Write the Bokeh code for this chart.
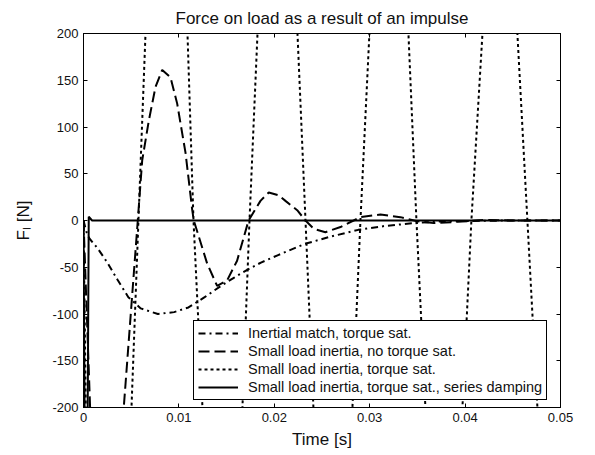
from bokeh.plotting import figure
from bokeh.models import FixedTicker, LinearAxis, Range1d, Legend, LegendItem
from bokeh.embed import file_html
from bokeh.resources import INLINE

FONT = "Liberation Sans"

# ---- data ----
t_inertial = [0, 0.0003, 0.0006, 0.0015, 0.0025, 0.0036, 0.0047, 0.006, 0.0078,
              0.0095, 0.011, 0.0127, 0.0144, 0.0158, 0.0173, 0.0186, 0.0204,
              0.0232, 0.026, 0.0288, 0.0315, 0.0344, 0.0373, 0.04, 0.045, 0.05]
f_inertial = [0, -12, -19, -30, -45, -64, -82, -94, -100,
              -98, -93, -82, -70, -61, -52, -45, -37,
              -25, -17, -10, -6, -3, -1, -0.5, 0, 0]

t_nosat = [0, 0.0009, 0.0025, 0.00422, 0.00569, 0.00615, 0.00685, 0.00755,
           0.00825, 0.00912, 0.00982, 0.0107, 0.0114, 0.01156, 0.01296, 0.01401,
           0.01506, 0.0161, 0.0173, 0.01855, 0.01942, 0.02044, 0.02117, 0.0224,
           0.02327, 0.02415, 0.02536, 0.02694, 0.02903, 0.03113, 0.03322,
           0.03497, 0.0367, 0.039, 0.042, 0.045, 0.05]
f_nosat = [0, -260, -500, -200, 0, 64, 107, 143,
           161, 153, 125, 72, 11, 0, -46, -70,
           -64, -43, 0, 21, 30, 27, 21, 11,
           0, -9, -12.5, -7, 3.6, 6.4, 3.6,
           -0.7, -2.8, -1.5, 0.5, 0, 0]

t_sat = [0, 0.0003, 0.0025, 0.00503, 0.00576, 0.0065, 0.0087, 0.0109, 0.01153,
         0.01247, 0.01457, 0.01666, 0.0174, 0.01824, 0.02033, 0.02243, 0.02327,
         0.0241, 0.0261, 0.02819, 0.02903, 0.02997, 0.03196, 0.03406, 0.0349,
         0.03584, 0.03773, 0.03972, 0.04066, 0.04182, 0.0437, 0.04548, 0.04653,
         0.04758, 0.0497]
f_sat = [0, -250, -470, -200, 0, 200, 470, 200, 0,
         -200, -470, -200, 0, 200, 470, 200, 0,
         -200, -470, -200, 0, 200, 470, 200, 0,
         -200, -470, -200, 0, 200, 470, 200, 0,
         -200, -470]

t_damp = [0, 0.00028, 0.00055, 0.0009, 0.05]
f_damp = [0, -500, 4, 0, 0]

x_ticks = [0, 0.01, 0.02, 0.03, 0.04, 0.05]
x_labels = ["0", "0.01", "0.02", "0.03", "0.04", "0.05"]
y_ticks = [-200, -150, -100, -50, 0, 50, 100, 150, 200]
y_labels = ["-200", "-150", "-100", "-50", "0", "50", "100", "150", "200"]

labels = ["Inertial match, torque sat.",
          "Small load inertia, no torque sat.",
          "Small load inertia, torque sat.",
          "Small load inertia, torque sat., series damping"]

# ---- figure ----
p = figure(frame_width=477, frame_height=374,
           x_range=Range1d(0, 0.05), y_range=Range1d(-200, 200),
           output_backend="svg", toolbar_location=None,
           min_border_left=83, min_border_right=35,
           min_border_top=33, min_border_bottom=48,
           background_fill_color="white", border_fill_color="white")

p.title.text = "Force on load as a result of an impulse"
p.title.align = "center"
p.title.text_font = FONT
p.title.text_font_size = "17px"
p.title.text_font_style = "normal"
p.title.text_color = "#111111"
p.title.standoff = 12

p.xgrid.visible = False
p.ygrid.visible = False
p.outline_line_color = "black"
p.outline_line_width = 1

def style_axis(ax, ticks, labs, show_labels=True):
    ax.ticker = FixedTicker(ticks=ticks)
    ax.major_tick_in = 4
    ax.major_tick_out = 0
    ax.minor_tick_line_color = None
    ax.axis_line_color = "black"
    ax.major_tick_line_color = "black"
    if show_labels:
        ax.major_label_overrides = {t: l for t, l in zip(ticks, labs)}
        ax.major_label_text_font = FONT
        ax.major_label_text_font_size = "13px"
        ax.major_label_text_color = "#111111"
        ax.major_label_standoff = 5
    else:
        ax.major_label_overrides = {t: "" for t in ticks}
        ax.major_label_text_font_size = "0px"
        ax.major_label_standoff = 0

style_axis(p.xaxis[0], x_ticks, x_labels)
style_axis(p.yaxis[0], y_ticks, y_labels)
p.xaxis.axis_label = "Time [s]"
p.yaxis.axis_label = "F\u2097 [N]"
for ax in (p.xaxis[0], p.yaxis[0]):
    ax.axis_label_text_font = FONT
    ax.axis_label_text_font_size = "17px"
    ax.axis_label_text_font_style = "normal"
    ax.axis_label_text_color = "#111111"
p.xaxis.axis_label_standoff = 5
p.yaxis.axis_label_standoff = 16

top = LinearAxis()
style_axis(top, x_ticks, x_labels, show_labels=False)
p.add_layout(top, "above")
right = LinearAxis()
style_axis(right, y_ticks, y_labels, show_labels=False)
p.add_layout(right, "right")

r1 = p.line(t_inertial, f_inertial, line_color="black", line_width=2, line_dash="7 4 2 4")
r2 = p.line(t_nosat, f_nosat, line_color="black", line_width=2, line_dash="11 5")
r3 = p.line(t_sat, f_sat, line_color="black", line_width=2, line_dash="3 3")
r4 = p.line(t_damp, f_damp, line_color="black", line_width=2)

legend = Legend(items=[LegendItem(label=l, renderers=[r]) for l, r in zip(labels, [r1, r2, r3, r4])],
                location=(110, 7), margin=0, padding=4, spacing=2,
                glyph_width=40, glyph_height=16, label_height=16, label_standoff=10,
                label_text_font=FONT, label_text_font_size="14.5px", label_text_color="#111111",
                border_line_color="black", border_line_width=1, border_line_alpha=1,
                background_fill_color="white", background_fill_alpha=1)
p.add_layout(legend)

open("out.html", "w").write(file_html(p, INLINE))
